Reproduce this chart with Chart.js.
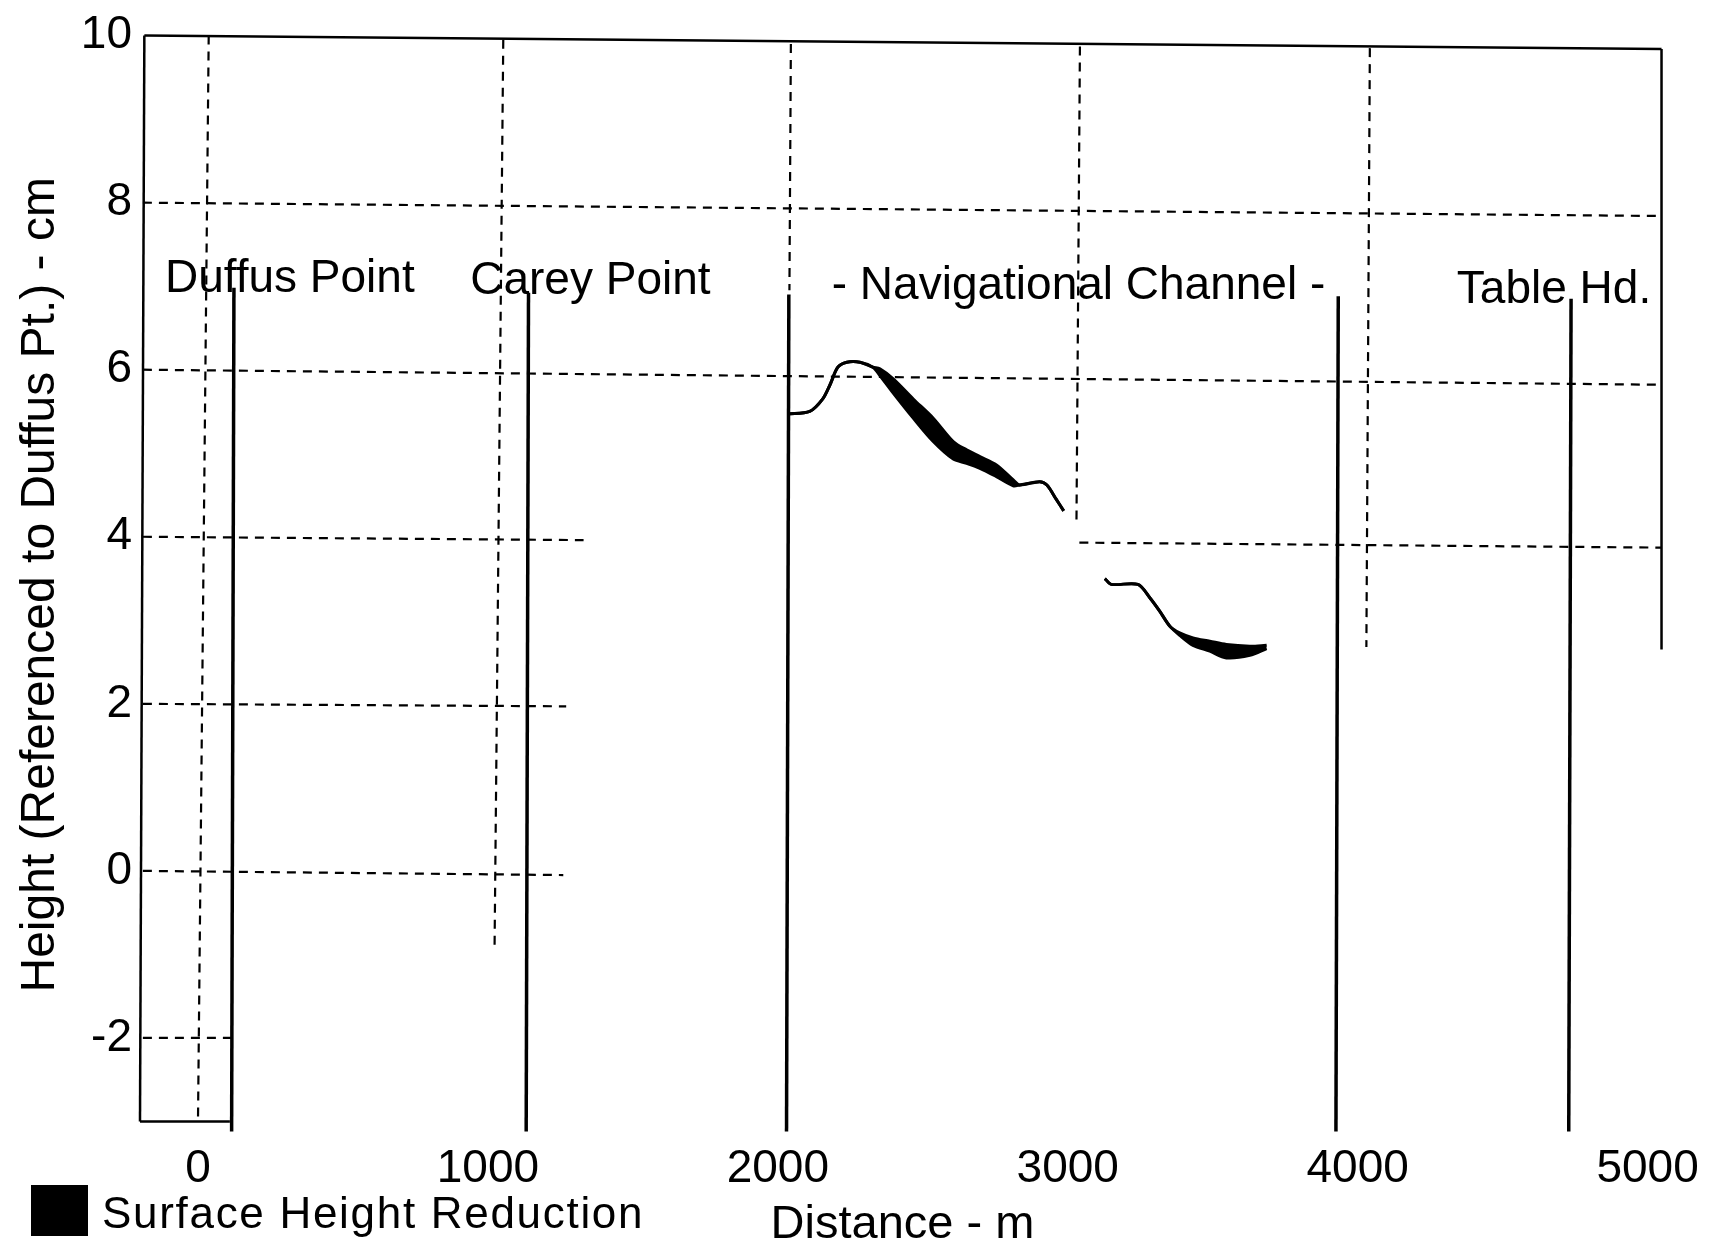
<!DOCTYPE html>
<html>
<head>
<meta charset="utf-8">
<script src="https://cdn.jsdelivr.net/npm/chart.js@4.4.1/dist/chart.umd.min.js"></script>
<style>
  body { margin: 0; background: #fff; }
  #wrap { width: 1723px; height: 1257px; }
</style>
</head>
<body>
<div id="wrap"><canvas id="myChart"></canvas></div>
<script>
// profile west of the channel (distance m, height cm)
const distanceA = [2034, 2110, 2155, 2180, 2207, 2238, 2283, 2328, 2352, 2398, 2467, 2536, 2605, 2651, 2697, 2754, 2812, 2834, 2903, 2928, 2960, 2986];
const heightA = [5.47, 5.5, 5.65, 5.82, 6.03, 6.09, 6.09, 6.03, 6.01, 5.89, 5.65, 5.42, 5.14, 5.04, 4.96, 4.86, 4.68, 4.62, 4.66, 4.62, 4.45, 4.31];
const reducedA = [5.47, 5.5, 5.65, 5.82, 6.03, 6.09, 6.09, 6.03, 5.93, 5.72, 5.42, 5.14, 4.93, 4.88, 4.82, 4.72, 4.61, 4.62, 4.66, 4.62, 4.45, 4.31];

// profile east of the channel
const distanceB = [3128, 3150, 3242, 3283, 3317, 3352, 3386, 3432, 3490, 3547, 3628, 3686];
const heightB = [3.5, 3.43, 3.43, 3.27, 3.11, 2.93, 2.85, 2.79, 2.75, 2.71, 2.69, 2.7];
const reducedB = [3.5, 3.43, 3.43, 3.27, 3.11, 2.93, 2.82, 2.7, 2.63, 2.55, 2.58, 2.66];

// site markers
const siteNames = ["Duffus Point", "Carey Point", "- Navigational Channel -", "Table Hd."];
const siteLabelX = [-114, 939, 2186, 4342];
const siteLabelY = [7.08, 7.06, 7.0, 6.95];
const markerX = [124, 1140, 2038, 3933, 4736];
const markerTop = [6.98, 6.92, 6.9, 6.88, 6.85];
const markerBottom = -3.12;

// dashed reference lines [x1, y1, x2, y2]
const gridLines = [
  [-190, 8, 5048, 7.84],
  [-190, 6, 5048, 5.82],
  [-190, 4, 1330, 3.96],
  [3040, 3.93, 5048, 3.87],
  [-190, 2, 1270, 1.97],
  [-190, 0, 1260, -0.05],
  [-190, -2, 115, -2],
  [37, 10, 0, -3],
  [1053, 9.95, 1023, -0.9],
  [2045, 9.9, 2040, 6.95],
  [3042, 9.87, 3030, 4.15],
  [4042, 9.85, 4030, 2.68],
];

// frame pieces
const frameLines = [
  [-185, 10, 5048, 9.84],
  [-185, 10, -200, -3],
  [-200, -3, 110, -3],
  [5048, 9.84, 5048, 2.65],
];

const xTicks = [0, 1000, 2000, 3000, 4000, 5000];
const yTicks = [-2, 0, 2, 4, 6, 8, 10];
const legendText = "Surface Height Reduction";
const xTitle = "Distance - m";
const yTitle = "Height (Referenced to Duffus Pt.) - cm";

const font = "'Liberation Sans', Arial, sans-serif";

const toPoints = (xs, ys) => xs.map((x, i) => ({ x: x, y: ys[i] }));
const segment = (s, dash, width) => ({
  data: [{ x: s[0], y: s[1] }, { x: s[2], y: s[3] }],
  borderColor: "#000",
  borderWidth: width,
  borderDash: dash,
  pointRadius: 0,
  fill: false,
  clip: false,
});

const datasets = [];
gridLines.forEach((s) => datasets.push(segment(s, [9, 7], 2.2)));
frameLines.forEach((s) => datasets.push(segment(s, [], 2.5)));
markerX.forEach((x, i) =>
  datasets.push(segment([x, markerTop[i], x - 8, markerBottom], [], 3.5))
);

[[distanceA, heightA, reducedA], [distanceB, heightB, reducedB]].forEach((p) => {
  datasets.push({
    data: toPoints(p[0], p[1]),
    borderColor: "#000",
    borderWidth: 3,
    pointRadius: 0,
    tension: 0.3,
    fill: false,
  });
  datasets.push({
    data: toPoints(p[0], p[2]),
    borderColor: "#000",
    borderWidth: 3,
    pointRadius: 0,
    tension: 0.3,
    backgroundColor: "#000",
    fill: "-1",
  });
});

const textPlugin = {
  id: "texts",
  afterDatasetsDraw(chart) {
    const ctx = chart.ctx;
    const xs = chart.scales.x;
    const ys = chart.scales.y;
    ctx.save();
    ctx.fillStyle = "#000";
    ctx.font = "46px " + font;
    ctx.textBaseline = "middle";
    ctx.textAlign = "left";
    siteNames.forEach((name, i) => {
      ctx.fillText(name, xs.getPixelForValue(siteLabelX[i]), ys.getPixelForValue(siteLabelY[i]));
    });
    // legend
    ctx.fillRect(31, 1185, 57, 51);
    ctx.font = "44px " + font;
    ctx.letterSpacing = "1.7px";
    ctx.fillText(legendText, 102, 1216);
    ctx.restore();
  },
};

const ctx = document.getElementById("myChart").getContext("2d");
new Chart(ctx, {
  type: "line",
  data: { datasets: datasets },
  options: {
    responsive: true,
    maintainAspectRatio: false,
    animation: false,
    layout: { padding: { top: 33, right: 58, left: 0, bottom: 0 } },
    scales: {
      x: {
        type: "linear",
        min: -200,
        max: 5060,
        afterFit: (s) => { s.height = 123; },
        afterBuildTicks: (s) => { s.ticks = xTicks.map((v) => ({ value: v })); },
        grid: { display: false, drawTicks: false, tickLength: 0 },
        border: { display: false },
        ticks: {
          color: "#000",
          padding: 8,
          maxRotation: 0,
          font: { family: font, size: 46 },
          callback: (v) => String(v),
        },
        title: { display: true, text: xTitle, color: "#000", padding: { top: 0, bottom: 4 }, font: { family: font, size: 47 } },
      },
      y: {
        type: "linear",
        min: -3.15,
        max: 10,
        afterFit: (s) => { s.width = 140; },
        afterBuildTicks: (s) => { s.ticks = yTicks.map((v) => ({ value: v })); },
        grid: { display: false, drawTicks: false, tickLength: 0 },
        border: { display: false },
        ticks: {
          color: "#000",
          padding: 8,
          font: { family: font, size: 46 },
          callback: (v) => String(v),
        },
        title: { display: true, text: yTitle, color: "#000", padding: { top: 12, bottom: 0 }, font: { family: font, size: 48 } },
      },
    },
    plugins: {
      legend: { display: false },
      tooltip: { enabled: false },
    },
  },
  plugins: [textPlugin],
});
</script>
</body>
</html>
